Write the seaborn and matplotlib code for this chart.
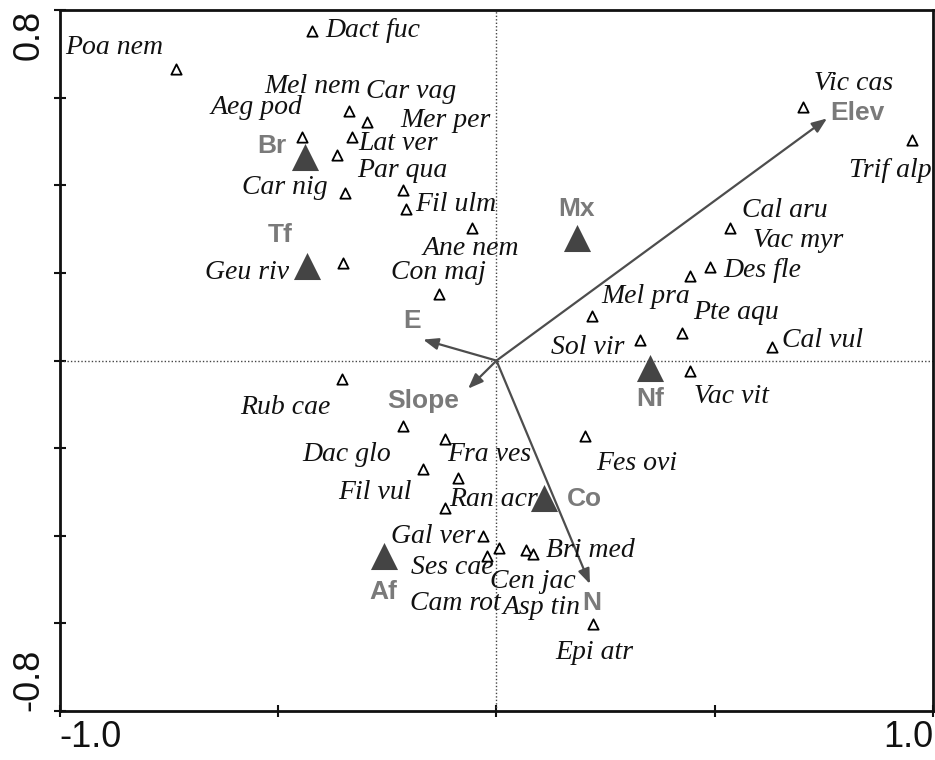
import numpy as np
import pandas as pd
import seaborn as sns
import matplotlib.pyplot as plt

# species scores (axis 1, axis 2)
species = ['Poa nem', 'Dact fuc', 'Aeg pod', 'Mel nem', 'Mer per', 'Lat ver',
           'Par qua', 'Car nig', 'Car vag', 'Fil ulm', 'Ane nem', 'Geu riv',
           'Con maj', 'Vic cas', 'Trif alp', 'Cal aru', 'Vac myr', 'Des fle',
           'Mel pra', 'Pte aqu', 'Sol vir', 'Cal vul', 'Vac vit', 'Rub cae',
           'Dac glo', 'Fra ves', 'Fil vul', 'Asp tin', 'Fes ovi', 'Ran acr',
           'Gal ver', 'Cam rot', 'Ses cae', 'Cen jac', 'Bri med', 'Epi atr']
sp_x = [-0.734, -0.423, -0.446, -0.338, -0.297, -0.331,
        -0.365, -0.347, -0.214, -0.207, -0.056, -0.352,
        -0.132, 0.702, 0.952, 0.535, 0.443, 0.489,
        0.219, 0.425, 0.329, 0.631, 0.443, -0.354,
        -0.214, -0.118, -0.168, -0.088, 0.203, -0.118,
        -0.031, 0.006, -0.022, 0.068, 0.084, 0.221]
sp_y = [0.665, 0.752, 0.510, 0.571, 0.544, 0.510,
        0.469, 0.382, 0.389, 0.347, 0.302, 0.222,
        0.151, 0.578, 0.503, 0.302, 0.194, 0.213,
        0.103, 0.062, 0.046, 0.030, -0.023, -0.041,
        -0.149, -0.178, -0.247, -0.267, -0.171, -0.336,
        -0.400, -0.427, -0.446, -0.432, -0.441, -0.601]

# nominal factors (centroids)
factors = ['Br', 'Tf', 'Mx', 'Nf', 'Co', 'Af']
fac_x = [-0.439, -0.434, 0.184, 0.352, 0.108, -0.258]
fac_y = [0.466, 0.217, 0.281, -0.016, -0.313, -0.446]

# environmental variables (arrows)
variables = ['Elev', 'E', 'Slope', 'N']
var_x = [0.757, -0.168, -0.065, 0.214]
var_y = [0.553, 0.048, -0.064, -0.510]

# label offsets in pixels from their point
sp_off = {
    'Poa nem': (-62, 22), 'Dact fuc': (61, 1), 'Aeg pod': (-45, 30),
    'Mel nem': (-36, 24), 'Mer per': (79, 2), 'Lat ver': (46, -6),
    'Par qua': (65, -15), 'Car nig': (-60, 6), 'Car vag': (8, 99),
    'Fil ulm': (50, 4), 'Ane nem': (-1, -20), 'Geu riv': (-96, -9),
    'Con maj': (0, 22), 'Vic cas': (51, 24), 'Trif alp': (-22, -30),
    'Cal aru': (55, 18), 'Vac myr': (108, 35), 'Des fle': (52, -3),
    'Mel pra': (54, 19), 'Pte aqu': (54, 21), 'Sol vir': (-52, -7),
    'Cal vul': (51, 7), 'Vac vit': (42, -26), 'Rub cae': (-57, -29),
    'Dac glo': (-56, -29), 'Fra ves': (44, -16), 'Fil vul': (-48, -24),
    'Asp tin': (83, -130), 'Fes ovi': (52, -28), 'Ran acr': (49, 8),
    'Gal ver': (-50, -1), 'Cam rot': (-44, -56), 'Ses cae': (-35, -12),
    'Cen jac': (7, -32), 'Bri med': (57, 3), 'Epi atr': (1, -29),
}
fac_off = {'Br': (-33, 11), 'Tf': (-27, 31), 'Mx': (0, 29),
           'Nf': (0, -31), 'Co': (41, -1), 'Af': (-1, -36)}
var_off = {'Elev': (30, 5), 'E': (-11, 19), 'Slope': (-45, -12), 'N': (2, -19)}

sp_df = pd.DataFrame({'name': species, 'x': sp_x, 'y': sp_y})
fac_df = pd.DataFrame({'name': factors, 'x': fac_x, 'y': fac_y})

sns.set_style('ticks')
plt.rcParams['font.family'] = ['Liberation Sans', 'DejaVu Sans']

fig = plt.figure(figsize=(9.35, 7.6), dpi=100)
ax = fig.add_axes([0.064, 0.0645, 0.934, 0.922])

ax.axhline(0, color='#444444', lw=1, ls=(0, (1, 1.5)), zorder=1)
ax.axvline(0, color='#444444', lw=1, ls=(0, (1, 1.5)), zorder=1)

sns.scatterplot(data=sp_df, x='x', y='y', marker='^', s=55, color='white',
                edgecolor='black', linewidth=1.3, ax=ax, zorder=3)
sns.scatterplot(data=fac_df, x='x', y='y', marker='^', s=380, color='#444444',
                edgecolor='#444444', linewidth=0, ax=ax, zorder=3)

for n, x, y in zip(species, sp_x, sp_y):
    ax.annotate(n, (x, y), xytext=sp_off[n], textcoords='offset pixels',
                ha='center', va='center', fontsize=20, color='#111111',
                family='Liberation Serif', style='italic', zorder=4)

for n, x, y in zip(factors, fac_x, fac_y):
    ax.annotate(n, (x, y), xytext=fac_off[n], textcoords='offset pixels',
                ha='center', va='center', fontsize=19, color='#7a7a7a',
                fontweight='bold', zorder=4)

for n, x, y in zip(variables, var_x, var_y):
    ax.annotate('', xy=(x, y), xytext=(0, 0),
                arrowprops=dict(arrowstyle='-|>,head_length=0.9,head_width=0.35',
                                color='#4d4d4d', lw=1.6, shrinkA=0, shrinkB=0),
                zorder=2)
    ax.annotate(n, (x, y), xytext=var_off[n], textcoords='offset pixels',
                ha='center', va='center', fontsize=19, color='#7a7a7a',
                fontweight='bold', zorder=4)

ax.set_xlim(-1.0, 1.0)
ax.set_ylim(-0.8, 0.8)
ax.set_xlabel('')
ax.set_ylabel('')

xt = np.arange(-1.0, 1.01, 0.5)
ax.set_xticks(xt)
ax.set_xticklabels(['-1.0', '', '', '', '1.0'])
yt = np.arange(-0.8, 0.81, 0.2)
ax.set_yticks(yt)
ax.set_yticklabels(['-0.8'] + [''] * 7 + ['0.8'], rotation=90)
xl = ax.get_xticklabels()
xl[0].set_ha('left')
xl[-1].set_ha('right')
yl = ax.get_yticklabels()
yl[0].set_va('bottom')
yl[-1].set_va('top')

ax.tick_params(direction='inout', length=9, width=1.5, labelsize=26,
               colors='#111111')
ax.tick_params(axis='x', pad=2)
ax.tick_params(axis='y', pad=5)
for s in ax.spines.values():
    s.set_linewidth(2)
    s.set_color('#111111')
    s.set_visible(True)

fig.savefig('out.png', dpi=100)
